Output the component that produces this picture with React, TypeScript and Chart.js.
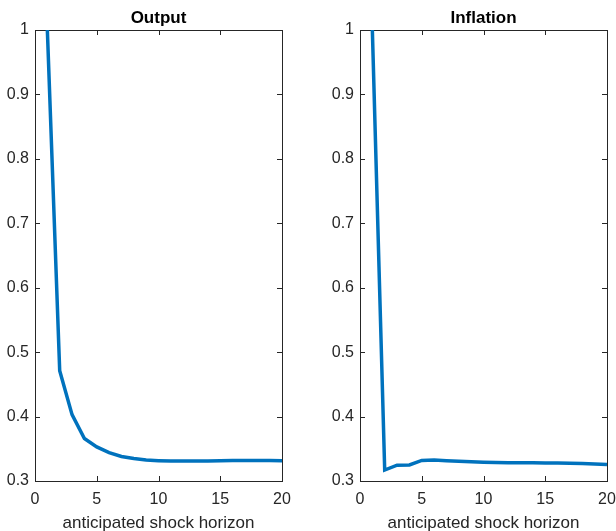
import React, { useEffect, useRef } from "react";
import { Chart, registerables } from "chart.js";

Chart.register(...registerables);

const horizons = [1, 2, 3, 4, 5, 6, 7, 8, 9, 10, 11, 12, 13, 14, 15, 16, 17, 18, 19, 20];
const outputValues = [
  1.0, 0.471, 0.403, 0.366, 0.353, 0.344, 0.338, 0.335, 0.3325, 0.3316,
  0.331, 0.331, 0.331, 0.3312, 0.3315, 0.3318, 0.332, 0.332, 0.3318, 0.3315,
];
const inflationValues = [
  1.0, 0.317, 0.3245, 0.325, 0.332, 0.3325, 0.3315, 0.3305, 0.3298, 0.3292,
  0.3288, 0.3285, 0.3283, 0.3282, 0.328, 0.3278, 0.3275, 0.327, 0.3265, 0.3255,
];
const xTicks = [0, 5, 10, 15, 20];
const yTicks = [0.3, 0.4, 0.5, 0.6, 0.7, 0.8, 0.9, 1];
const titles = ["Output", "Inflation"];
const xLabel = "anticipated shock horizon";

const AXIS_COLOR = "#262626";
const FONT = "'Liberation Sans', Arial, Helvetica, sans-serif";

const matlabAxesPlugin = {
  id: "matlabAxes",
  beforeDatasetsDraw(chart: any) {
    const { ctx, chartArea } = chart;
    const { left, right, top, bottom } = chartArea;
    const xs = chart.scales.x;
    const ys = chart.scales.y;
    const tl = 5;
    ctx.save();
    ctx.strokeStyle = AXIS_COLOR;
    ctx.lineWidth = 1;
    ctx.beginPath();
    for (const v of xTicks) {
      const px = Math.round(xs.getPixelForValue(v)) + 0.5;
      ctx.moveTo(px, bottom);
      ctx.lineTo(px, bottom - tl);
      ctx.moveTo(px, top);
      ctx.lineTo(px, top + tl);
    }
    for (const v of yTicks) {
      const py = Math.round(ys.getPixelForValue(v)) + 0.5;
      ctx.moveTo(left, py);
      ctx.lineTo(left + tl, py);
      ctx.moveTo(right, py);
      ctx.lineTo(right - tl, py);
    }
    ctx.stroke();
    ctx.strokeRect(Math.round(left) + 0.5, Math.round(top) + 0.5, Math.round(right - left), Math.round(bottom - top));
    ctx.restore();
  },
  afterDraw(chart: any, _args: any, opts: any) {
    const { ctx, chartArea } = chart;
    const cx = (chartArea.left + chartArea.right) / 2;
    ctx.save();
    ctx.textAlign = "center";
    ctx.textBaseline = "alphabetic";
    ctx.fillStyle = "#000000";
    ctx.font = `bold 17px ${FONT}`;
    ctx.fillText(opts.title, cx, 22.7);
    ctx.fillStyle = AXIS_COLOR;
    ctx.font = `17px ${FONT}`;
    ctx.fillText(xLabel, cx, 528);
    ctx.restore();
  },
};

function Panel(props: { values: number[]; title: string; yAxisWidth: number; padRight: number; left: number }) {
  const ref = useRef<HTMLCanvasElement>(null);
  useEffect(() => {
    const canvas = ref.current;
    if (!canvas) return;
    const chart = new Chart(canvas, {
      type: "line",
      data: {
        datasets: [
          {
            data: horizons.map((h, i) => ({ x: h, y: props.values[i] })),
            borderColor: "#0072BD",
            borderWidth: 3.5,
            pointRadius: 0,
            tension: 0,
            fill: false,
          },
        ],
      },
      options: {
        responsive: false,
        animation: false,
        events: [],
        layout: { padding: { top: 30, right: props.padRight, bottom: 0, left: 0 } },
        plugins: {
          legend: { display: false },
          tooltip: { enabled: false },
          title: { display: false },
          matlabAxes: { title: props.title },
        } as any,
        scales: {
          x: {
            type: "linear",
            min: 0,
            max: 20,
            grid: { display: false, drawTicks: true, tickLength: 9 },
            border: { display: false },
            afterBuildTicks: (s: any) => {
              s.ticks = xTicks.map((v) => ({ value: v }));
            },
            afterFit: (s: any) => {
              s.height = 50;
            },
            ticks: {
              padding: 0,
              color: AXIS_COLOR,
              font: { family: FONT, size: 16 },
              maxRotation: 0,
              callback: (v: any) => String(v),
            },
          },
          y: {
            type: "linear",
            min: 0.3,
            max: 1,
            grid: { display: false, drawTicks: false },
            border: { display: false },
            afterBuildTicks: (s: any) => {
              s.ticks = yTicks.map((v) => ({ value: v }));
            },
            afterFit: (s: any) => {
              s.width = props.yAxisWidth;
            },
            ticks: {
              padding: 6,
              color: AXIS_COLOR,
              font: { family: FONT, size: 16 },
              callback: (v: any) => String(Number(Number(v).toFixed(1))),
            },
          },
        },
      },
      plugins: [matlabAxesPlugin],
    });
    return () => chart.destroy();
  }, []);
  return (
    <canvas
      ref={ref}
      width={308}
      height={531}
      style={{ position: "absolute", left: props.left, top: 0, width: 308, height: 531 }}
    />
  );
}

export default function App() {
  return (
    <div style={{ position: "absolute", left: 0, top: 0, width: 616, height: 531, background: "#ffffff" }}>
      <Panel values={outputValues} title={titles[0]} yAxisWidth={35} padRight={26} left={0} />
      <Panel values={inflationValues} title={titles[1]} yAxisWidth={52} padRight={9} left={308} />
    </div>
  );
}
